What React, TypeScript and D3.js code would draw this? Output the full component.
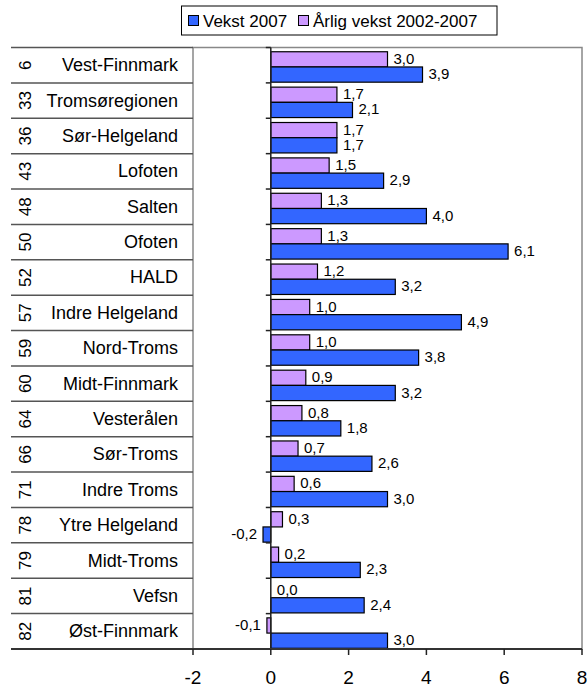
import React from 'react'
import * as d3 from 'd3'

const width = 587
const height = 688
const plot = { left: 193, right: 582, top: 47.5, bottom: 649 }
const font = '"Liberation Sans", Arial, sans-serif'

const ranks = [6, 33, 36, 43, 48, 50, 52, 57, 59, 60, 64, 66, 71, 78, 79, 81, 82]
const regions = [
  'Vest-Finnmark', 'Tromsøregionen', 'Sør-Helgeland', 'Lofoten', 'Salten', 'Ofoten', 'HALD',
  'Indre Helgeland', 'Nord-Troms', 'Midt-Finnmark', 'Vesterålen', 'Sør-Troms', 'Indre Troms',
  'Ytre Helgeland', 'Midt-Troms', 'Vefsn', 'Øst-Finnmark'
]
const arlig = [3.0, 1.7, 1.7, 1.5, 1.3, 1.3, 1.2, 1.0, 1.0, 0.9, 0.8, 0.7, 0.6, 0.3, 0.2, 0.0, -0.1]
const vekst = [3.9, 2.1, 1.7, 2.9, 4.0, 6.1, 3.2, 4.9, 3.8, 3.2, 1.8, 2.6, 3.0, -0.2, 2.3, 2.4, 3.0]
const xTicks = [-2, 0, 2, 4, 6, 8]

const series = [
  { key: 'arlig', label: 'Årlig vekst 2002-2007', values: arlig, color: '#CC99FF' },
  { key: 'vekst', label: 'Vekst 2007', values: vekst, color: '#3366FF' },
]

// norwegian decimal comma, plain hyphen for minus
const fmt = (v: number) => d3.format('.1f')(v).replace('.', ',').replace('−', '-')

const App = () => {
  const x = d3.scaleLinear().domain([-2, 8]).range([plot.left, plot.right])
  const y = d3.scaleBand<string>().domain(regions).range([plot.top, plot.bottom])
  const bw = y.bandwidth()
  const inner = d3.scaleBand<string>().domain(series.map(s => s.key)).range([bw * 0.12, bw * 0.98])
  const bh = inner.bandwidth()
  const x0 = x(0)
  const boundaries = regions.map(r => y(r) as number).concat([plot.bottom])

  return (
    <svg width={width} height={height} style={{ position: 'absolute', left: 0, top: 0, fontFamily: font }}>
      <rect width={width} height={height} fill="white" />

      {/* legend */}
      <g>
        <rect x={181.5} y={6} width={315.5} height={29} fill="white" stroke="black" strokeWidth={1} />
        <rect x={188.5} y={15.5} width={10} height={10} fill="#3366FF" stroke="black" />
        <text x={203} y={27} fontSize={17}>Vekst 2007</text>
        <rect x={298.5} y={15.5} width={10} height={10} fill="#CC99FF" stroke="black" />
        <text x={313} y={27} fontSize={17}>Årlig vekst 2002-2007</text>
      </g>

      {/* plot frame */}
      <rect x={plot.left} y={plot.top} width={plot.right - plot.left} height={plot.bottom - plot.top}
        fill="none" stroke="#888" strokeWidth={1.5} />

      {/* table rows */}
      {boundaries.map((b, i) => (
        <line key={i} x1={11} x2={plot.left} y1={b} y2={b} stroke="#555" strokeWidth={1.5} />
      ))}
      {regions.map((r, i) => {
        const cy = (y(r) as number) + bw / 2
        return (
          <g key={r}>
            <text transform={`translate(31,${cy}) rotate(-90)`} textAnchor="middle" fontSize={17}>{ranks[i]}</text>
            <text x={178} y={cy + 6} textAnchor="end" fontSize={18}>{r}</text>
          </g>
        )
      })}

      {/* bars */}
      {regions.map((r, i) => (
        <g key={r} transform={`translate(0,${y(r)})`}>
          {series.map(s => {
            const v = s.values[i]
            const yy = inner(s.key) as number
            const bx = Math.min(x(v), x0)
            return (
              <g key={s.key}>
                <rect x={bx} y={yy} width={Math.abs(x(v) - x0)} height={bh}
                  fill={s.color} stroke="black" strokeWidth={1.2} />
                <text x={v < 0 ? x(v) - 6 : x(v) + 6} y={yy + bh / 2 + 4.5}
                  textAnchor={v < 0 ? 'end' : 'start'} fontSize={15}>{fmt(v)}</text>
              </g>
            )
          })}
        </g>
      ))}

      {/* zero axis with category ticks */}
      <line x1={x0} x2={x0} y1={plot.top} y2={plot.bottom} stroke="#222" strokeWidth={1.5} />
      {boundaries.map((b, i) => (
        <line key={i} x1={x0 - 5} x2={x0} y1={b} y2={b} stroke="#222" strokeWidth={1.5} />
      ))}

      {/* bottom axis */}
      <line x1={11} x2={plot.right} y1={plot.bottom} y2={plot.bottom} stroke="#333" strokeWidth={2} />
      {xTicks.map(t => (
        <g key={t} transform={`translate(${x(t)},${plot.bottom})`}>
          <line y2={6} stroke="#222" strokeWidth={1.5} />
          <text y={35} textAnchor="middle" fontSize={19}>{t}</text>
        </g>
      ))}
    </svg>
  )
}

export default App
